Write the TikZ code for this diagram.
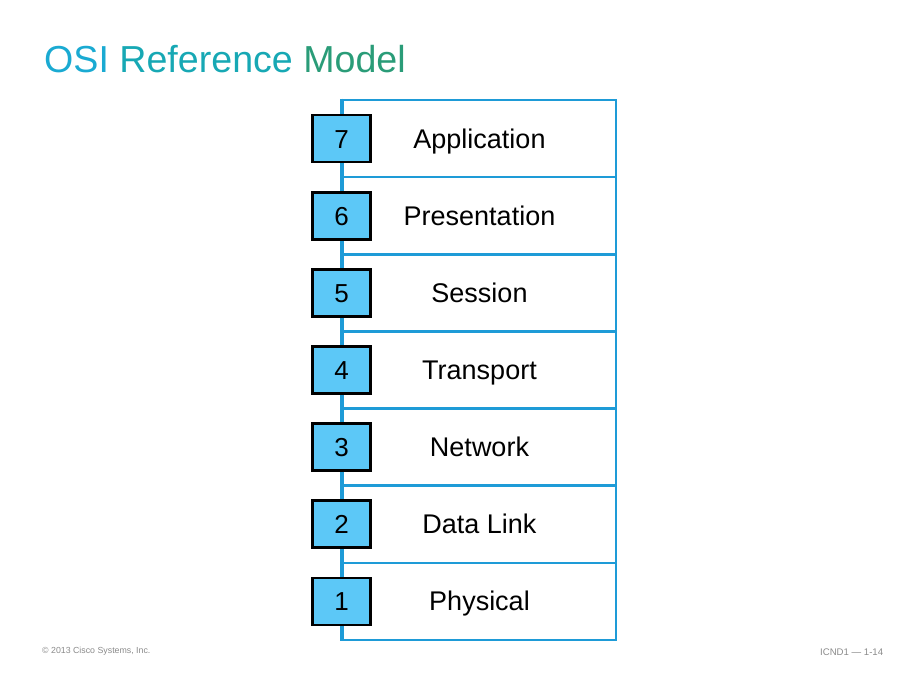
\documentclass[tikz,border=0pt]{standalone}
\usepackage{fontspec}
\setmainfont{Liberation Sans}
\definecolor{osiblue}{HTML}{1E9BD7}
\definecolor{numfill}{HTML}{5CC8F7}
\definecolor{tA}{HTML}{1AAAD2}
\definecolor{tB}{HTML}{17A8B4}
\definecolor{tC}{HTML}{2A9C78}
\definecolor{foot}{HTML}{8A8A8A}
\begin{document}
\begin{tikzpicture}[x=1pt,y=-1pt,
  layer/.style={draw=osiblue,line width=2.6pt,minimum width=273pt,minimum height=77.1pt,inner sep=0pt,font=\fontsize{27}{30}\selectfont,text=black,text height=19pt,text depth=0pt},
  numbox/.style={draw=black,fill=numfill,line width=2.8pt,minimum width=58pt,minimum height=47pt,inner sep=0pt,font=\fontsize{26}{29}\selectfont,text height=19pt,text depth=0pt},
  foottext/.style={text=foot,inner sep=0pt,anchor=west}]
\useasboundingbox (0,0) rectangle (911,682);
\node[anchor=base west,inner sep=0pt,font=\fontsize{37.6}{40}\selectfont] (title) at (44,73)
  {\textcolor{tA}{OSI} \textcolor{tB}{Reference} \textcolor{tC}{Model}};
\foreach \i/\name in {7/Application,6/Presentation,5/Session,4/Transport,3/Network,2/Data Link,1/Physical}{
  \node[layer] (r\i) at (479.5,{100+77.14*(7-\i)+38.57}) {\name};
}
\draw[osiblue,line width=2.6pt] (r7.north west) -- (r1.south west);
\foreach \i in {7,...,1}{
  \node[numbox] (n\i) at (r\i.west) {\i};
}
\node[foottext,font=\fontsize{8.8}{10}\selectfont] (copy) at (42,651) {\textcopyright{} 2013 Cisco Systems, Inc.};
\node[foottext,font=\fontsize{9.6}{11}\selectfont] (page) at (820,652) {ICND1 — 1-14};
\end{tikzpicture}
\end{document}
